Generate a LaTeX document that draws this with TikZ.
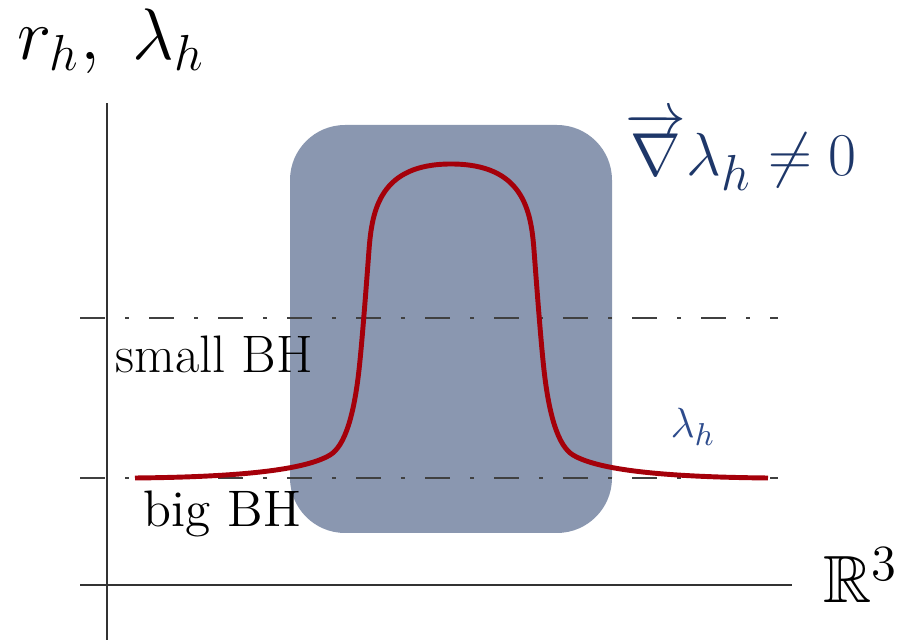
\documentclass[tikz,border=0pt]{standalone}
\usepackage{amsmath}
\usepackage{amssymb}
\usepackage{tikz}
\usetikzlibrary{positioning,calc}
\definecolor{boxgray}{RGB}{138,151,176}
\definecolor{curvered}{RGB}{165,0,10}
\definecolor{navy}{RGB}{30,55,105}
\definecolor{lblue}{RGB}{45,75,140}
\def\fsz#1{\fontsize{#1}{#1}\selectfont}

\begin{document}
\begin{tikzpicture}[x=0.01cm,y=-0.01cm,
  axis/.style={line width=0.5pt,black!80},
  guide/.style={line width=0.5pt,black!75,dash pattern=on 0.25cm off 0.2cm on 0.04cm off 0.2cm},
  lbl/.style={inner sep=0pt,anchor=base west}]
\useasboundingbox (0,0) rectangle (902,640);
% region where the gradient does not vanish
\fill[boxgray,rounded corners=0.55cm] (290,125) rectangle (612,533);
% axes
\coordinate (ybot) at (107,640);
\coordinate (ytop) at (107,103);
\coordinate (xleft) at (80,585);
\coordinate (xright) at (792,585);
\draw[axis] (ybot) -- (ytop);
\draw[axis] (xleft) -- (xright);
% horizon levels
\coordinate (sl) at (80,318);
\coordinate (sr) at (778,318);
\coordinate (bl) at (80,478);
\coordinate (br) at (778,478);
\draw[guide] (sl) -- (sr);
\draw[guide] (bl) -- (br);
% lambda_h profile
\draw[curvered,line width=1.4pt]
  (135,478) .. controls (240,477) and (305,470) .. (330,455)
  .. controls (345,446) and (354,415) .. (359,370)
  .. controls (362,343) and (366,290) .. (369,250)
  .. controls (372,210) and (380,164) .. (451,164)
  .. controls (523,164) and (531,210) .. (534,250)
  .. controls (537,290) and (541,343) .. (544,370)
  .. controls (549,415) and (558,446) .. (573,455)
  .. controls (598,470) and (663,477) .. (768,478);
% labels
\node[lbl] (vlab) at (17,60) {\fsz{19.5}$r_h,\;\lambda_h$};
\node[lbl,text=navy] (grad) at (625,176) {\fsz{19}$\overrightarrow{\nabla}\lambda_h \neq 0$};
\node[lbl] (small) at (115,373) {\fsz{15}small BH};
\node[lbl] (big) at (143,527) {\fsz{14.6}big BH};
\node[lbl,text=lblue] (lam) at (670,438) {\fsz{13}$\lambda_h$};
\node[lbl] (space) at (823,603) {\fsz{19}$\mathbb{R}^3$};
\end{tikzpicture}
\end{document}
